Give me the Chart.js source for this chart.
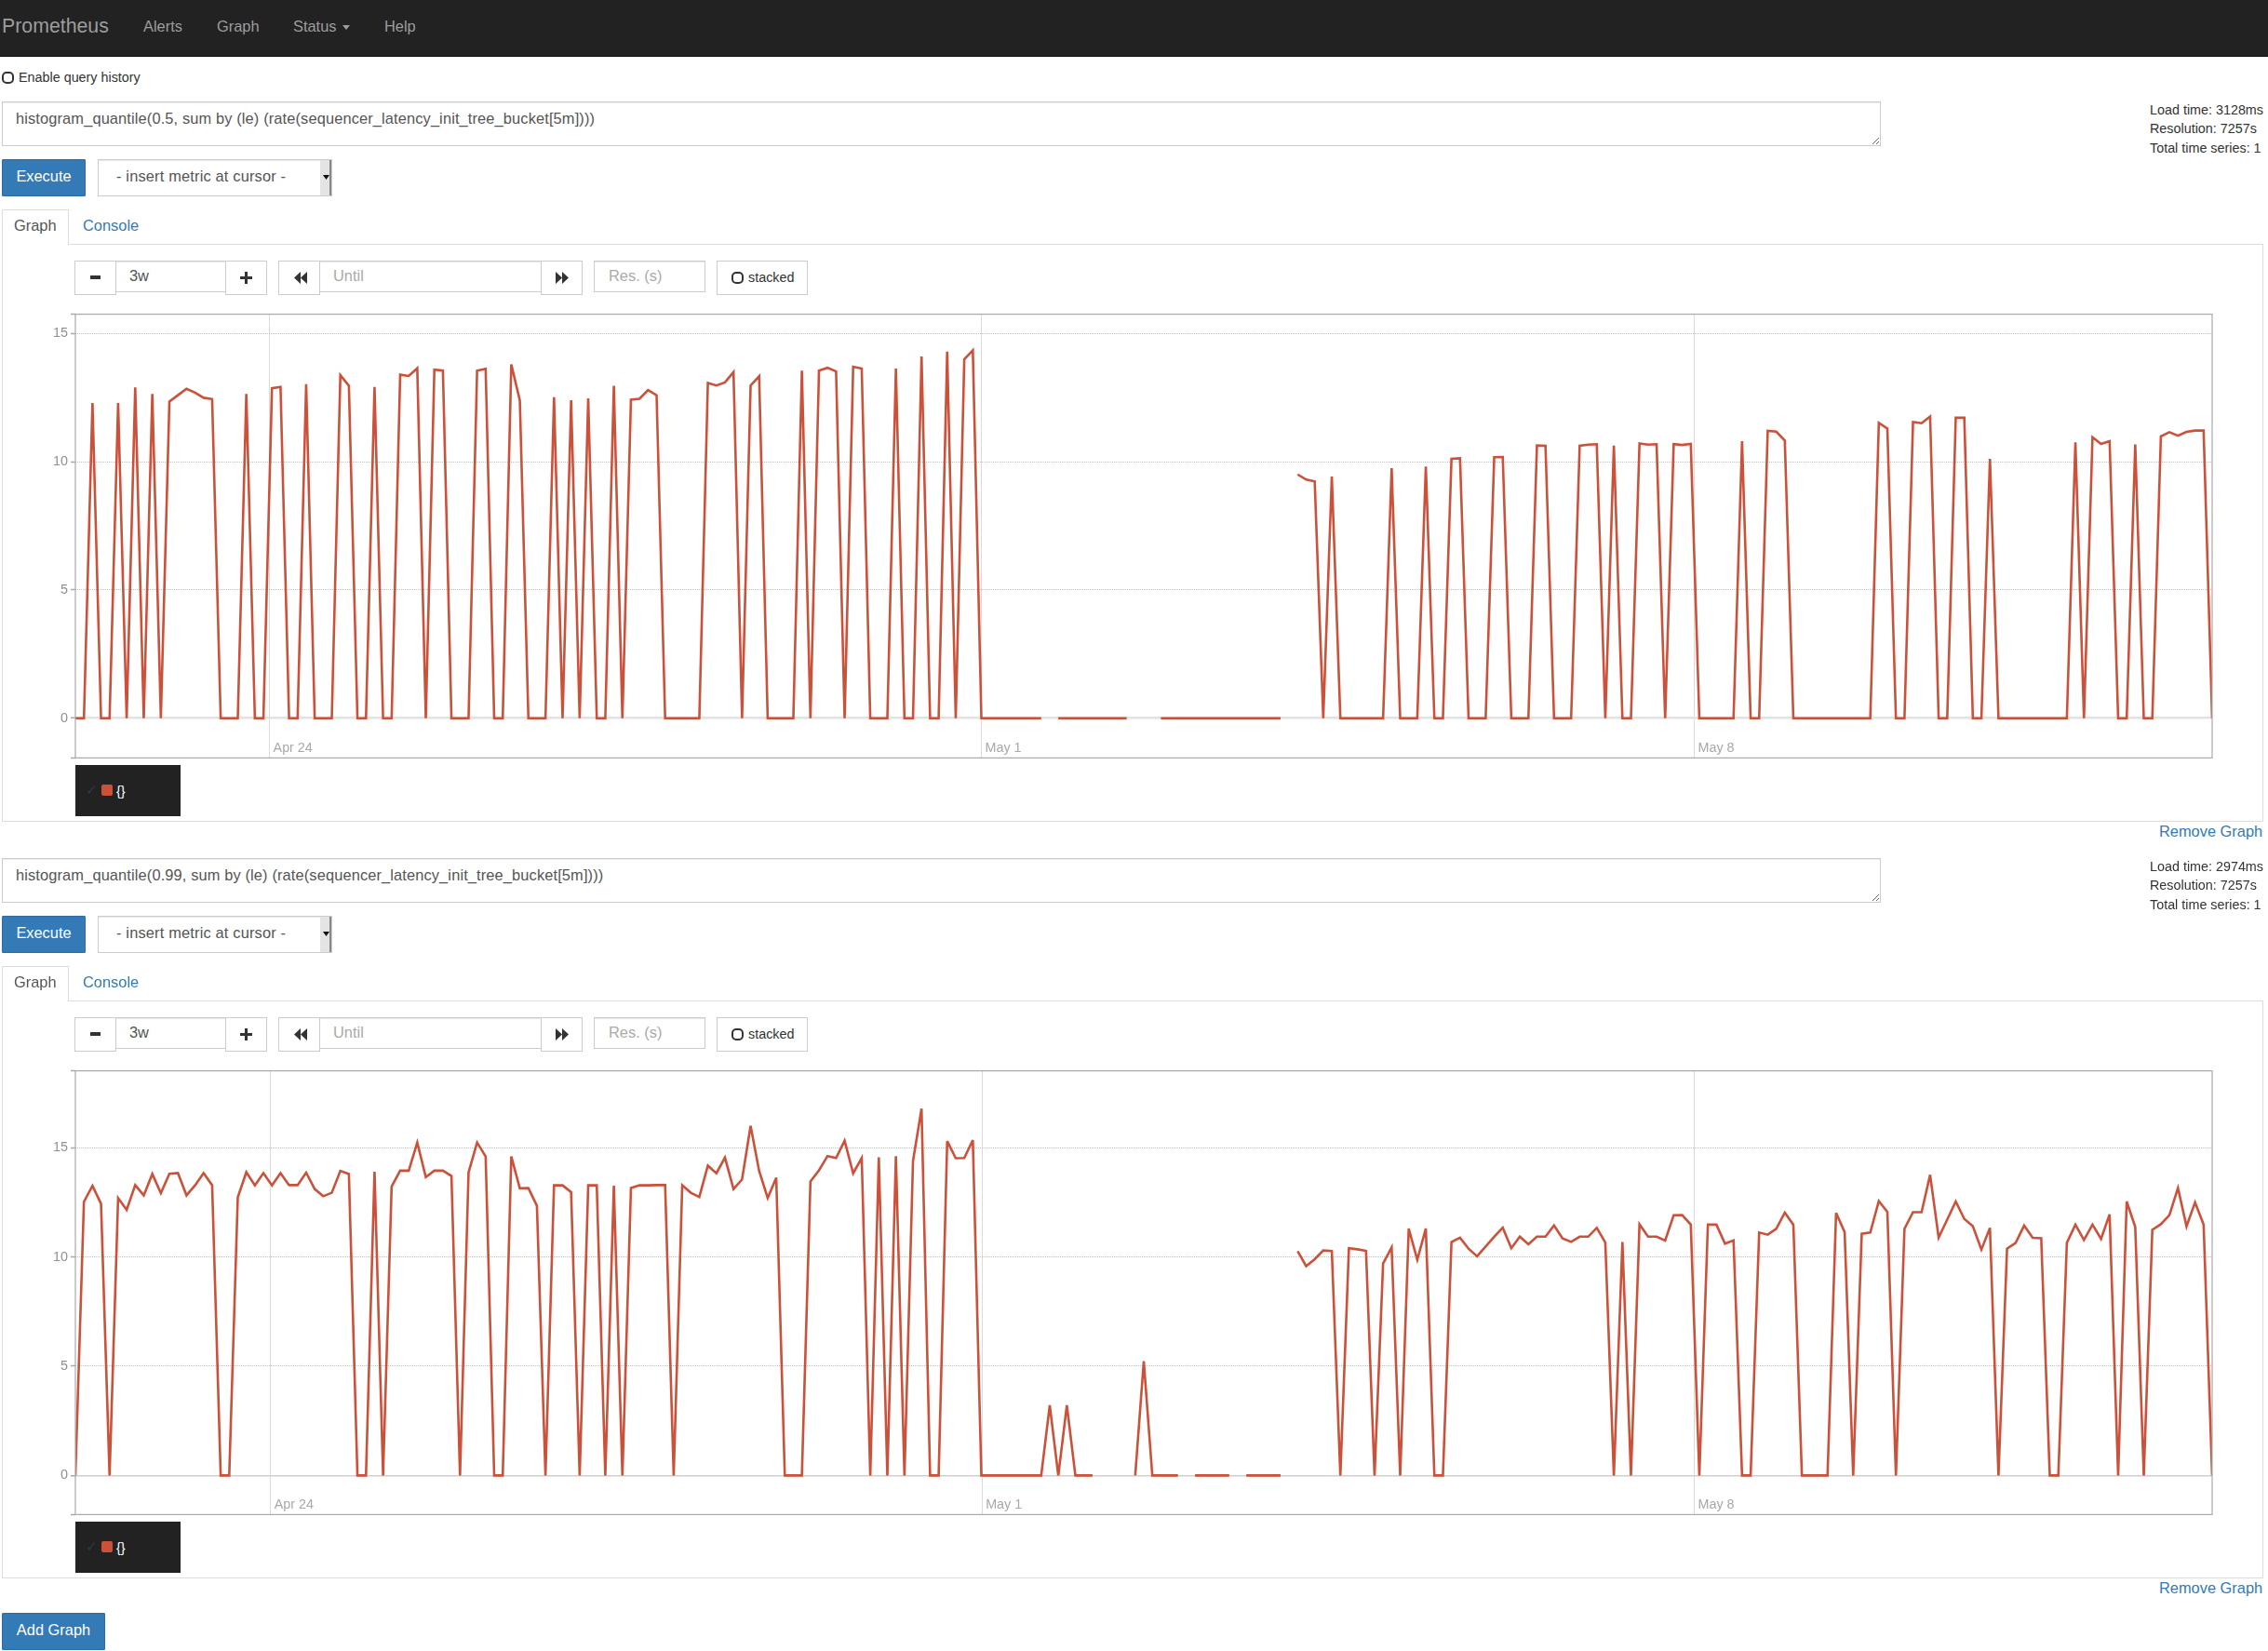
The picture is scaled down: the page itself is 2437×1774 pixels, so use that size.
<!DOCTYPE html>
<html>
<head>
<meta charset="utf-8">
<title>Prometheus</title>
<script src="https://cdn.jsdelivr.net/npm/chart.js@4/dist/chart.umd.min.js"></script>
<style>
  html, body { margin: 0; padding: 0; background: #fff; }
  body { position: relative; width: 2437px; height: 1774px; overflow: hidden;
         font-family: "Liberation Sans", Arial, sans-serif; font-size: 16.4px; color: #333; }
  .abs, .abs > *, #page div, #page span, #page canvas, #page textarea, #page svg { position: absolute; box-sizing: border-box; }
  .nav { left: 0; top: 0; width: 2437px; height: 61px; background: #222; border-bottom: 1px solid #080808; }
  .navtext { color: #9d9d9d; line-height: 20px; top: 18px; white-space: nowrap; }
  .check { width: 13px; height: 13px; border: 2px solid #333; border-radius: 5px; background: #fff; }
  .small { font-size: 14.35px; line-height: 18px; white-space: nowrap; }
  .query { left: 2px; top: 109px; width: 2019px; height: 48px; border: 1px solid #ccc; color: #555; font: 16.4px/23px "Liberation Sans", Arial, sans-serif;
           letter-spacing: 0.13px; padding: 6px 14px; box-shadow: inset 0 1px 1px rgba(0,0,0,.075); resize: both; outline: 0; overflow: hidden; }
  .btn { background: #337ab7; border: 1px solid #2e6da4; color: #fff; text-align: center; border-radius: 1px; white-space: nowrap; }
  .box { border: 1px solid #ccc; background: #fff; }
  .input { box-shadow: inset 0 1px 1px rgba(0,0,0,.1); color: #555; line-height: 30px; padding-left: 14px; white-space: nowrap; }
  .ph { color: #aaa; }
  .legend { left: 81px; top: 822px; width: 113px; height: 55px; background: #222; }
  .link { color: #337ab7; white-space: nowrap; }
</style>
</head>
<body>
<div id="page"></div>
<script>
const xMax = 250;
const yTickValues = [0, 5, 10, 15];
const xTickLabels = ["Apr 24", "May 1", "May 8"];

const q50Query = "histogram_quantile(0.5, sum by (le) (rate(sequencer_latency_init_tree_bucket[5m])))";
const q50Stats = ["Load time: 3128ms", "Resolution: 7257s", "Total time series: 1"];
const q50XTicks = [22.71, 106.0, 189.4];
const q50Values = [
  0,0,12.3,0,0,12.3,0,12.9,0,12.65,
  0,12.35,12.6,12.85,12.7,12.5,12.45,0,0,0,
  12.65,0,0,12.87,12.92,0,0,13.03,0,0,
  0,13.38,12.97,0,0,12.92,0,0,13.4,13.35,
  13.65,0,13.6,13.56,0,0,0,13.56,13.63,0,
  0,13.8,12.4,0,0,0,12.52,0,12.4,0,
  12.48,0,0,12.97,0,12.43,12.46,12.8,12.6,0,
  0,0,0,0,13.08,12.98,13.1,13.5,0,12.98,
  13.34,0,0,0,0,13.56,0,13.56,13.67,13.53,
  0,13.71,13.64,0,0,0,13.64,0,0,14.11,
  0,0,14.3,0,14.0,14.35,0,0,0,0,
  0,0,0,0,null,0,0,0,0,0,
  0,0,0,0,null,null,null,0,0,0,
  0,0,0,0,0,0,0,0,0,0,
  0,0,null,9.51,9.31,9.24,0,9.43,0,0,
  0,0,0,0,9.75,0,0,0,9.82,0,
  0,10.12,10.14,0,0,0,10.18,10.19,0,0,
  0,10.64,10.63,0,0,0,10.63,10.67,10.69,0,
  10.63,0,0,10.72,10.67,10.69,0,10.69,10.66,10.7,
  0,0,0,0,0,10.81,0,0,11.21,11.18,
  10.83,0,0,0,0,0,0,0,0,0,
  0,11.52,11.3,0,0,11.55,11.51,11.77,0,0,
  11.72,11.72,0,0,10.12,0,0,0,0,0,
  0,0,0,0,10.76,0,10.96,10.7,10.81,0,
  0,10.68,0,0,11.0,11.16,11.02,11.17,11.22,11.22,
  0
];

const q99Query = "histogram_quantile(0.99, sum by (le) (rate(sequencer_latency_init_tree_bucket[5m])))";
const q99Stats = ["Load time: 2974ms", "Resolution: 7257s", "Total time series: 1"];
const q99XTicks = [22.83, 106.07, 189.4];
const q99Values = [
  0,12.53,13.26,12.44,0,12.7,12.16,13.29,12.82,13.8,
  12.92,13.81,13.84,12.82,13.28,13.84,13.29,0,0,12.73,
  13.88,13.28,13.84,13.28,13.84,13.29,13.29,13.86,13.11,12.78,
  12.94,13.94,13.8,0,0,13.9,0,13.23,13.95,13.95,
  15.24,13.66,13.95,13.95,13.71,0,13.87,15.24,14.6,0,
  0,14.6,13.14,13.15,12.34,0,13.28,13.28,12.97,0,
  13.28,13.28,0,13.26,0,13.16,13.28,13.28,13.29,13.29,
  0,13.28,12.94,12.75,14.18,13.83,14.55,13.11,13.55,16.0,
  13.94,12.7,13.63,0,0,0,13.46,13.97,14.62,14.53,
  15.32,13.83,14.53,0,14.56,0,14.62,0,14.39,16.79,
  0,0,15.3,14.52,14.53,15.35,0,0,0,0,
  0,0,0,0,3.21,0,3.21,0,0,0,
  null,null,null,null,0,5.23,0,0,0,0,
  null,0,0,0,0,0,null,0,0,0,
  0,0,null,10.27,9.58,9.9,10.3,10.27,0,10.4,
  10.35,10.28,0,9.7,10.44,0,11.3,9.87,11.3,0,
  0,10.68,10.88,10.38,10.03,10.48,10.93,11.34,10.4,10.93,
  10.58,10.93,10.93,11.44,10.85,10.69,10.93,10.93,11.33,10.66,
  0,10.68,0,11.5,10.93,10.93,10.75,11.91,11.92,11.48,
  0,11.48,11.48,10.61,10.76,0,0,11.12,11.02,11.29,
  12.03,11.48,0,0,0,0,12.02,11.14,0,11.06,
  11.12,12.56,12.06,0,11.29,12.05,12.05,13.76,10.89,11.71,
  12.54,11.74,11.41,10.34,11.33,0,10.38,10.64,11.44,10.88,
  10.86,0,0,10.65,11.48,10.78,11.48,10.83,11.95,0,
  12.54,11.38,0,11.24,11.5,11.92,13.16,11.4,12.5,11.48,
  0
];

const lineColor = "#cb513a";

function navHtml() {
  return `
  <div class="nav"></div>
  <span class="navtext" style="left:2px;font-size:21.3px;top:18px">Prometheus</span>
  <span class="navtext" style="left:154px">Alerts</span>
  <span class="navtext" style="left:233px">Graph</span>
  <span class="navtext" style="left:315px">Status</span>
  <svg style="left:368px;top:27px" width="8" height="5"><path d="M0 0H8L4 5Z" fill="#9d9d9d"/></svg>
  <span class="navtext" style="left:413px">Help</span>
  <div class="check" style="left:2px;top:77px"></div>
  <span class="small" style="left:20px;top:74px">Enable query history</span>`;
}

function panelHtml(idx, query, stats) {
  return `
  <div style="left:0;top:${idx * 813}px;width:2437px;height:813px">
    <textarea class="query" readonly spellcheck="false">${query}</textarea>
    <span class="small" style="left:2310px;top:109px">${stats[0]}</span>
    <span class="small" style="left:2310px;top:129px">${stats[1]}</span>
    <span class="small" style="left:2310px;top:150px">${stats[2]}</span>

    <div class="btn" style="left:2px;top:171px;width:90px;height:40px;line-height:34px">Execute</div>
    <div class="box" style="left:105px;top:171px;width:252px;height:40px;line-height:34px;padding-left:19px;letter-spacing:.17px;color:#555;box-shadow:inset 0 1px 1px rgba(0,0,0,.1);white-space:nowrap">- insert metric at cursor -</div>
    <div style="left:344px;top:172px;width:10px;height:38px;background:#e4e4e4"></div>
    <div style="left:354px;top:172px;width:2px;height:38px;background:#888"></div>
    <svg style="left:347px;top:188px" width="7" height="5"><path d="M0 0H7L3.5 5Z" fill="#111"/></svg>

    <div style="left:2px;top:262px;width:2430px;height:621px;border:1px solid #ddd"></div>
    <div style="left:2px;top:225px;width:72px;height:38px;background:#fff;border:1px solid #ddd;border-bottom:0"></div>
    <span style="left:15px;top:232px;line-height:20px;color:#555">Graph</span>
    <span class="link" style="left:89px;top:232px;line-height:20px">Console</span>

    <div class="box" style="left:80px;top:280px;width:45px;height:37px"></div>
    <svg style="left:97px;top:296px" width="11" height="4"><path d="M0 0H11V4H0Z" fill="#333"/></svg>
    <div class="box input" style="left:124px;top:280px;width:119px;height:34px">3w</div>
    <div class="box" style="left:242px;top:280px;width:45px;height:37px"></div>
    <svg style="left:258px;top:292px" width="13" height="13"><path d="M5 0H8V5H13V8H8V13H5V8H0V5H5Z" fill="#333"/></svg>

    <div class="box" style="left:299px;top:280px;width:45px;height:37px"></div>
    <svg style="left:316px;top:292px" width="14" height="13"><path d="M7 0V13L0 6.5ZM14 0V13L7 6.5Z" fill="#333"/></svg>
    <div class="box input ph" style="left:343px;top:280px;width:239px;height:34px;color:#aaa">Until</div>
    <div class="box" style="left:581px;top:280px;width:45px;height:37px"></div>
    <svg style="left:597px;top:292px" width="14" height="13"><path d="M0 0V13L7 6.5ZM7 0V13L14 6.5Z" fill="#333"/></svg>

    <div class="box input ph" style="left:638px;top:280px;width:120px;height:34px;padding-left:15px;color:#aaa">Res. (s)</div>
    <div class="box" style="left:770px;top:280px;width:98px;height:37px"></div>
    <div class="check" style="left:786px;top:292px"></div>
    <span class="small" style="left:804px;top:289px">stacked</span>

    <canvas id="chart${idx}" width="2360" height="500" style="left:30px;top:326px"></canvas>

    <div class="legend"></div>
    <span style="left:92px;top:839px;line-height:20px;font-size:15px;color:#2a3b4c">✓</span>
    <div style="left:109px;top:843px;width:12px;height:12px;background:${lineColor};border-radius:2px"></div>
    <span class="small" style="left:125px;top:841px;color:#fff">{}</span>

    <span class="link" style="left:2320px;top:883px;line-height:20px">Remove Graph</span>
  </div>`;
}

function drawGraph(canvas, values, xTicks, yMin, yMax, zeroColor, zeroWidth) {
  new Chart(canvas.getContext("2d"), {
    type: "line",
    data: {
      datasets: [{
        data: values.map((v, i) => ({ x: i, y: v })),
        borderColor: lineColor,
        borderWidth: 2.6,
        borderJoinStyle: "miter",
        pointRadius: 0,
        tension: 0,
        spanGaps: false
      }]
    },
    options: {
      responsive: false,
      animation: false,
      layout: { padding: { left: 0, right: 13, top: 10, bottom: 0 } },
      plugins: { legend: { display: false }, tooltip: { enabled: false } },
      scales: {
        x: {
          type: "linear",
          min: 0,
          max: xMax,
          afterBuildTicks: axis => { axis.ticks = xTicks.map(v => ({ value: v })); },
          afterFit: axis => { axis.height = 10; },
          grid: { color: "#b8b8b8", lineWidth: 1, drawTicks: false },
          border: { display: false, dash: [1, 1] },
          ticks: {
            autoSkip: false,
            maxRotation: 0,
            align: "start",
            // mirror keeps the labels inside the plot like the original graph
            mirror: true,
            labelOffset: 4,
            padding: 2,
            color: "#a8a8a8",
            font: { family: "Liberation Sans", size: 14.35 },
            callback: value => xTickLabels[xTicks.indexOf(value)]
          }
        },
        y: {
          min: yMin,
          max: yMax,
          afterBuildTicks: axis => {
            axis.ticks = [yMin].concat(yTickValues, [yMax]).map(v => ({ value: v }));
          },
          afterFit: axis => { axis.width = 51; },
          grid: {
            color: ctx => ctx.tick && ctx.tick.value === 0 ? zeroColor : "#c0c0c0",
            lineWidth: ctx => ctx.tick && ctx.tick.value === 0 ? zeroWidth : 1,
            tickColor: "#aaa",
            tickWidth: 1.5,
            tickLength: 5
          },
          border: {
            display: false,
            dash: ctx => ctx.tick && ctx.tick.value === 0 ? [] : [1, 1]
          },
          ticks: {
            autoSkip: false,
            padding: 3,
            color: "#909090",
            font: { family: "Liberation Sans", size: 14.35 },
            callback: value => yTickValues.includes(value) ? String(value) : ""
          }
        }
      }
    },
    plugins: [{
      id: "plotBorder",
      beforeDatasetsDraw(chart) {
        // sharp spikes get cut flat instead of shooting past the value
        chart.ctx.miterLimit = 4;
      },
      afterDatasetsDraw(chart) {
        const { ctx, chartArea: a } = chart;
        ctx.save();
        ctx.strokeStyle = "#aaa";
        ctx.lineWidth = 1.2;
        ctx.strokeRect(a.left, a.top, a.right - a.left, a.bottom - a.top);
        ctx.restore();
      }
    }]
  });
}

document.getElementById("page").innerHTML = navHtml()
  + panelHtml(0, q50Query, q50Stats)
  + panelHtml(1, q99Query, q99Stats)
  + `<div class="btn" style="left:2px;top:1733px;width:111px;height:40px;line-height:34px">Add Graph</div>`;

drawGraph(document.getElementById("chart0"), q50Values, q50XTicks, -1.55, 15.76, "#e2e2e2", 2.5);
drawGraph(document.getElementById("chart1"), q99Values, q99XTicks, -1.79, 18.52, "#cfcfcf", 1.5);
</script>
</body>
</html>
